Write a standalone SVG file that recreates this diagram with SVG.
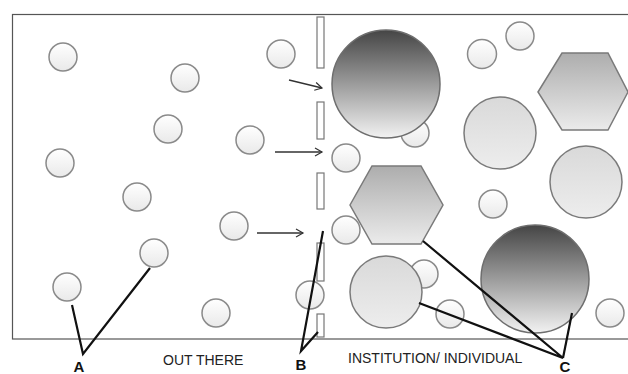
<svg xmlns="http://www.w3.org/2000/svg" width="628" height="374" viewBox="0 0 628 374">
<defs>
  <linearGradient id="gSmall" x1="0" y1="0" x2="0" y2="1">
    <stop offset="0" stop-color="#ffffff"/>
    <stop offset="1" stop-color="#e9e9e9"/>
  </linearGradient>
  <linearGradient id="gMed" x1="0" y1="0" x2="0" y2="1">
    <stop offset="0" stop-color="#d9d9d9"/>
    <stop offset="1" stop-color="#ededed"/>
  </linearGradient>
  <linearGradient id="gDark" x1="0" y1="0" x2="0" y2="1">
    <stop offset="0" stop-color="#454545"/>
    <stop offset="1" stop-color="#f2f2f2"/>
  </linearGradient>
  <linearGradient id="gHex" x1="0" y1="0" x2="0" y2="1">
    <stop offset="0" stop-color="#adadad"/>
    <stop offset="1" stop-color="#ebebeb"/>
  </linearGradient>
  <marker id="arr" markerWidth="10" markerHeight="10" refX="8" refY="5" orient="auto" markerUnits="userSpaceOnUse">
    <path d="M1,1 L8,5 L1,9" fill="none" stroke="#333" stroke-width="1.2"/>
  </marker>
</defs>
<style>
  .frame{fill:#fff;stroke:#555;stroke-width:1.2}
  .sm{fill:url(#gSmall);stroke:#8a8a8a;stroke-width:1.5}
  .md{fill:url(#gMed);stroke:#7a7a7a;stroke-width:1.5}
  .dk{fill:url(#gDark);stroke:#6e6e6e;stroke-width:1.5}
  .hx{fill:url(#gHex);stroke:#7a7a7a;stroke-width:1.5}
  .slot{fill:#fff;stroke:#777;stroke-width:1.2}
  .arrow{stroke:#333;stroke-width:1.3;fill:none;marker-end:url(#arr)}
  .lead{stroke:#111;stroke-width:2.2;fill:none;stroke-linejoin:miter}
  .lbl{font-family:"Liberation Sans",Arial,sans-serif;font-size:14px;fill:#222}
  .key{font-family:"Liberation Sans",Arial,sans-serif;font-size:15px;font-weight:bold;fill:#111;text-anchor:middle}
</style>
<rect class="frame" x="12.5" y="14.5" width="625" height="324.5"/>

<g id="out-there">
  <circle class="sm" cx="63" cy="57" r="14"/>
  <circle class="sm" cx="185" cy="78" r="14"/>
  <circle class="sm" cx="168" cy="129" r="14"/>
  <circle class="sm" cx="250" cy="140" r="14"/>
  <circle class="sm" cx="281" cy="54" r="14"/>
  <circle class="sm" cx="60" cy="163" r="14"/>
  <circle class="sm" cx="137" cy="197" r="14"/>
  <circle class="sm" cx="234" cy="226" r="14"/>
  <circle class="sm" cx="154" cy="253" r="14"/>
  <circle class="sm" cx="67" cy="287" r="14"/>
  <circle class="sm" cx="216" cy="313" r="14"/>
  <circle class="sm" cx="310" cy="295" r="14"/>
</g>

<g id="barrier">
  <rect class="slot" x="317" y="17" width="7" height="51"/>
  <rect class="slot" x="317" y="102" width="7" height="37"/>
  <rect class="slot" x="317" y="173" width="7" height="36"/>
  <rect class="slot" x="317" y="243" width="7" height="38"/>
  <rect class="slot" x="317" y="314" width="7" height="23"/>
</g>

<g id="institution">
  <circle class="sm" cx="415" cy="133" r="14"/>
  <circle class="dk" cx="386" cy="84" r="54"/>
  <circle class="sm" cx="482" cy="54" r="14.5"/>
  <circle class="sm" cx="520" cy="36" r="14"/>
  <polygon class="hx" points="538,92 562,53 608,53 628,92 608,130 562,130"/>
  <circle class="md" cx="500" cy="133" r="36"/>
  <circle class="md" cx="586" cy="182" r="36"/>
  <circle class="sm" cx="346" cy="158" r="14"/>
  <polygon class="hx" points="350,205 372,166 421,166 443,205 421,244 372,244"/>
  <circle class="sm" cx="493" cy="204" r="14"/>
  <circle class="sm" cx="346" cy="230" r="14"/>
  <circle class="sm" cx="424" cy="274" r="14"/>
  <circle class="md" cx="386" cy="292" r="36"/>
  <circle class="sm" cx="450" cy="314" r="14"/>
  <circle class="dk" cx="535" cy="279" r="54"/>
  <circle class="sm" cx="610" cy="313" r="14"/>
</g>

<g id="connectors">
  <line class="arrow" x1="289" y1="80" x2="322" y2="88"/>
  <line class="arrow" x1="275" y1="152" x2="322" y2="152"/>
  <line class="arrow" x1="257" y1="233" x2="303" y2="233"/>
  <polyline class="lead" points="72,305 83,354 150,268"/>
  <polyline class="lead" points="323,231 301,351 318,332"/>
  <polyline class="lead" points="423,241 563,358 419,303"/>
  <line class="lead" x1="563" y1="358" x2="572" y2="313"/>
</g>

<g id="labels">
  <text class="lbl" x="163" y="365">OUT THERE</text>
  <text class="lbl" x="348" y="363">INSTITUTION/ INDIVIDUAL</text>
  <text class="key" x="79" y="372">A</text>
  <text class="key" x="301" y="370">B</text>
  <text class="key" x="565" y="372">C</text>
</g>
</svg>
